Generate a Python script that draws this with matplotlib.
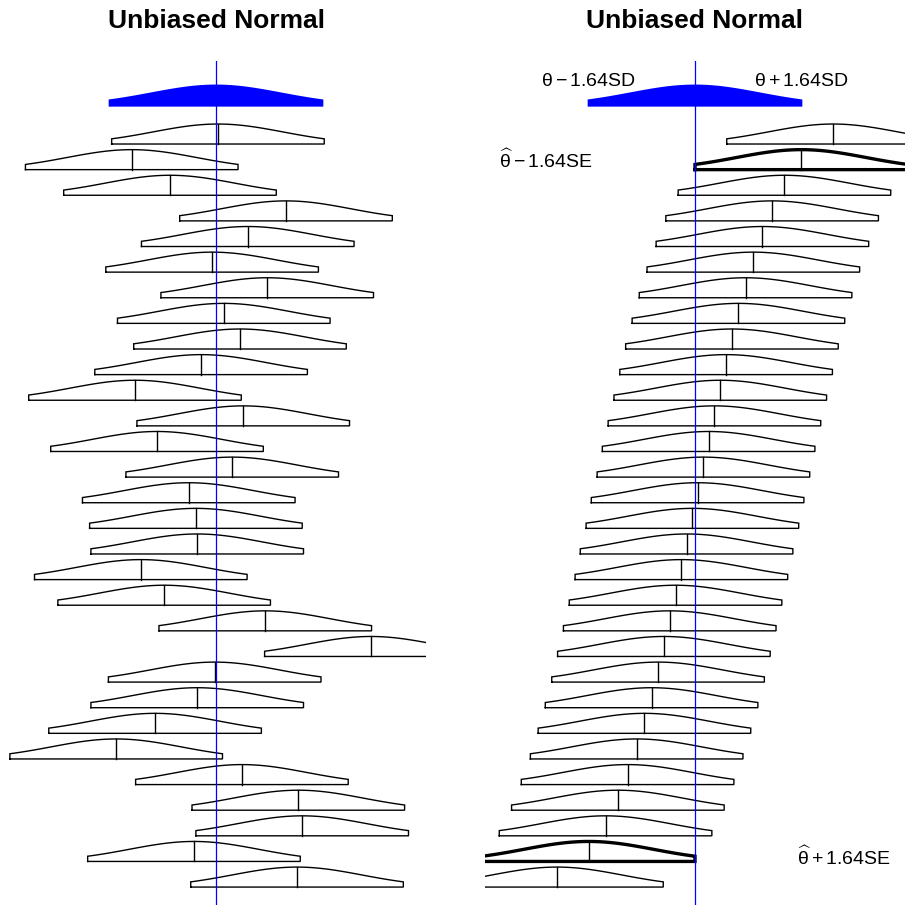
import numpy as np
import matplotlib
matplotlib.use('Agg')
import matplotlib.pyplot as plt

plt.rcParams['font.family'] = ['Liberation Sans', 'DejaVu Sans']
plt.rcParams['mathtext.fontset'] = 'custom'
plt.rcParams['mathtext.rm'] = 'Liberation Sans'
plt.rcParams['mathtext.it'] = 'Liberation Sans'

# estimates in SD units (true value = 0), one per row, top to bottom
left_est = [0.03, -1.30, -0.71, 1.08, 0.49, -0.06, 0.79, 0.12, 0.37, -0.23,
            -1.25, 0.42, -0.91, 0.25, -0.42, -0.31, -0.29, -1.16, -0.80, 0.76,
            2.39, -0.02, -0.29, -0.94, -1.54, 0.40, 1.27, 1.33, -0.34, 1.25]

right_est = [2.13, 1.64, 1.38, 1.19, 1.04, 0.90, 0.78, 0.67, 0.57, 0.48,
             0.39, 0.30, 0.21, 0.13, 0.04, -0.04, -0.13, -0.21, -0.30, -0.39,
             -0.48, -0.57, -0.67, -0.78, -0.90, -1.04, -1.19, -1.38, -1.64, -2.13]
right_bold = [2, 29]

theta = 0.0
z = 1.64
h = 0.78   # curve height in row units


def bell(center):
    xs = np.linspace(center - z, center + z, 120)
    ys = np.exp(-0.5 * (xs - center) ** 2)
    return xs, ys


def draw_row(ax, center, row, lw=1.0):
    xs, ys = bell(center)
    px = np.concatenate([[xs[0]], xs, [xs[-1], xs[0]]])
    py = np.concatenate([[row], row - h * ys, [row, row]])
    ax.plot(px, py, color='black', lw=lw, solid_joinstyle='miter')
    ax.plot([center, center], [row, row - h], color='black', lw=1.0)


def draw_panel(ax, est, bold):
    xs, ys = bell(theta)
    px = np.concatenate([[xs[0]], xs, [xs[-1]]])
    py = np.concatenate([[-0.5], -0.5 - h * ys, [-0.5]])
    ax.fill(px, py, color='blue', lw=1.5, ec='blue')
    for i, e in enumerate(est):
        row = i + 1
        draw_row(ax, e, row, lw=2.4 if row in bold else 1.0)
    ax.axvline(theta, color='blue', lw=0.9)
    ax.set_xlim(-3.24, 3.24)
    ax.set_ylim(30.70, -2.24)
    ax.axis('off')


fig = plt.figure(figsize=(9.07, 9.05), dpi=100)
W, H = 907, 905
ax1 = fig.add_axes([6 / W, 0, 420 / W, (H - 61) / H])
ax2 = fig.add_axes([485 / W, 0, 420 / W, (H - 61) / H])

draw_panel(ax1, left_est, [])
draw_panel(ax2, right_est, right_bold)

fig.text(216 / W, 1 - 21 / H, 'Unbiased Normal', ha='center', va='center',
         fontsize=19, fontweight='bold')
fig.text(695 / W, 1 - 21 / H, 'Unbiased Normal', ha='center', va='center',
         fontsize=19, fontweight='bold')

ax2.text(-z, -1.45, r'$\theta - 1.64$SD', ha='center', va='center', fontsize=14)
ax2.text(z, -1.45, r'$\theta + 1.64$SD', ha='center', va='center', fontsize=14)
ax2.text(-2.3, 1.63, r'$\widehat{\theta} - 1.64$SE', ha='center', va='center', fontsize=14)
ax2.text(2.3, 28.85, r'$\widehat{\theta} + 1.64$SE', ha='center', va='center', fontsize=14)

fig.savefig('out.png', dpi=100)
